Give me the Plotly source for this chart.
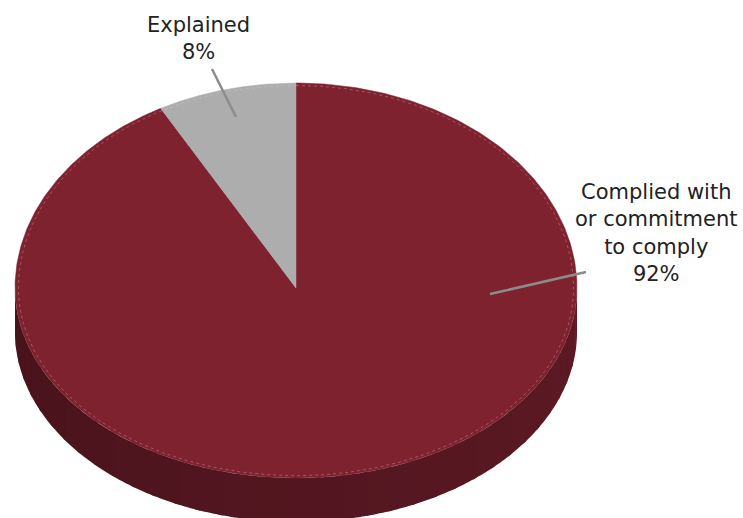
import numpy as np
import plotly.graph_objects as go

# Compliance outcome shares
labels = ["Complied with<br>or commitment<br>to comply", "Explained"]
values = [92, 8]
pct_text = ["92%", "8%"]

top_colors = ["#7E2230", "#ADADAD"]
W, H = 743, 518

# Tilted-disc geometry in page pixels
cx, cy = 296.0, 288.0
rx = 281.0
ry_back, ry_front = 205.0, 190.0
depth = 44.0


def rim(theta_deg, scale=1.0, dy=0.0):
    """Point on the disc rim; angle measured clockwise from 12 o'clock."""
    t = np.radians(theta_deg)
    ry = np.where(np.cos(t) >= 0, ry_back, ry_front)
    x = cx + scale * rx * np.sin(t)
    y = cy - scale * ry * np.cos(t) + dy
    return x, y


fig = go.Figure()

# Slice angles: "Explained" runs counter-clockwise from 12 o'clock,
# the remaining share fills the rest of the disc.
total = float(sum(values))
sweeps = [v / total * 360.0 for v in values]
spans = [(0.0, sweeps[0]), (-sweeps[1], 0.0)]

# Front wall of the disc (only the 90..270 degree arc is visible);
# shaded in overlapping bands, darker to the left.
wall_a, wall_b = 90.0, 270.0
n_bands = 36
c_right = np.array([0x5E, 0x1A, 0x24])
c_left = np.array([0x48, 0x13, 0x1C])
edges = np.linspace(wall_a, wall_b, n_bands + 1)
for i in range(n_bands):
    a0 = edges[i]
    a1 = min(edges[i + 1] + 1.0, wall_b)
    th = np.linspace(a0, a1, 10)
    xt, yt = rim(th)
    xb, yb = rim(th[::-1], dy=depth)
    f = (i + 0.5) / n_bands
    c = (c_right * (1 - f) + c_left * f).astype(int)
    col = "rgb(%d,%d,%d)" % tuple(c)
    fig.add_trace(go.Scatter(
        x=np.concatenate([xt, xb]), y=np.concatenate([yt, yb]),
        mode="none", fill="toself", fillcolor=col,
        hoverinfo="skip", showlegend=False))

# Top faces of the slices
for (a0, a1), col in zip(spans, top_colors):
    th = np.linspace(a0, a1, 400)
    xr, yr = rim(th)
    xs = np.concatenate([[cx], xr, [cx]])
    ys = np.concatenate([[cy], yr, [cy]])
    fig.add_trace(go.Scatter(
        x=xs, y=ys, mode="lines", fill="toself", fillcolor=col,
        line=dict(color=col, width=0.5), hoverinfo="skip", showlegend=False))

# Faint inner highlight ring on the top face
th = np.linspace(0, 360, 720)
xi, yi = rim(th, scale=0.988)
fig.add_trace(go.Scatter(
    x=xi, y=yi, mode="lines",
    line=dict(color="rgba(235,200,205,0.4)", width=0.8, dash="dot"),
    hoverinfo="skip", showlegend=False))

# Leader lines
leader = "#8C8C8C"
shapes = [
    dict(type="line", x0=212, y0=69, x1=236, y1=117,
         line=dict(color=leader, width=2.5)),
    dict(type="line", x0=586, y0=272, x1=490, y1=294,
         line=dict(color=leader, width=2.5)),
]

font = dict(family="'DejaVu Sans', sans-serif", size=21, color="#222222")
annotations = [
    dict(x=656, y=233, text=labels[0] + "<br>" + pct_text[0],
         showarrow=False, font=font, align="center", xanchor="center", yanchor="middle"),
    dict(x=198, y=38, text=labels[1] + "<br>" + pct_text[1],
         showarrow=False, font=font, align="center", xanchor="center", yanchor="middle"),
]

fig.update_layout(
    width=W, height=H,
    margin=dict(l=0, r=0, t=0, b=0),
    paper_bgcolor="white", plot_bgcolor="white",
    xaxis=dict(range=[0, W], visible=False, fixedrange=True),
    yaxis=dict(range=[H, 0], visible=False, fixedrange=True),
    shapes=shapes, annotations=annotations,
    showlegend=False,
)

fig.write_html("out.html")
